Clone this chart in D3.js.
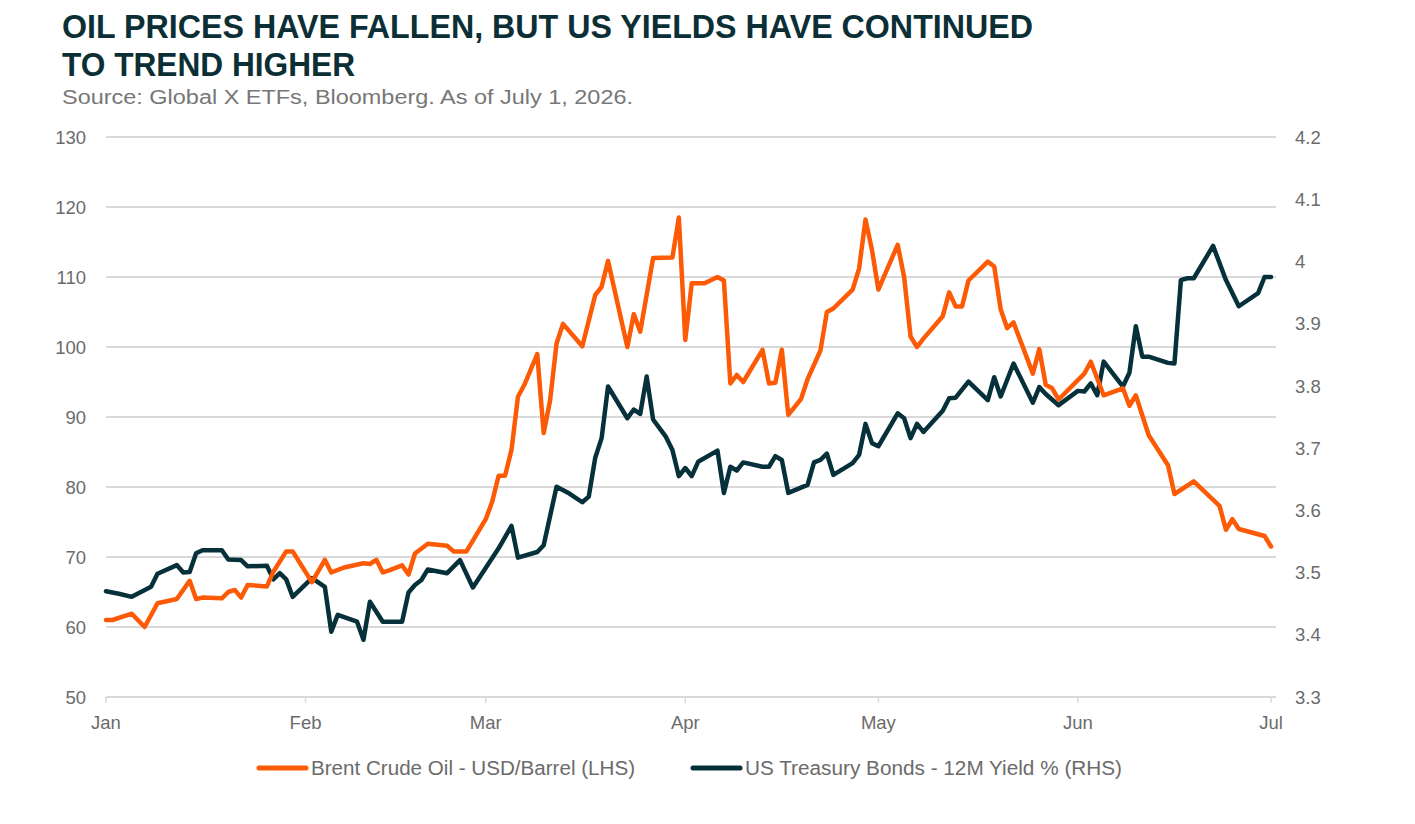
<!DOCTYPE html>
<html>
<head>
<meta charset="utf-8">
<script src="https://cdn.jsdelivr.net/npm/d3@7"></script>
<style>
  html, body { margin: 0; padding: 0; background: #fff; }
  svg { display: block; font-family: "Liberation Sans", Arial, sans-serif; }
</style>
</head>
<body>
<svg id="chart" width="1415" height="824"></svg>
<script>
// Brent crude, USD/barrel (left axis)
var oilDates = [
  "2026-01-01","2026-01-02","2026-01-05","2026-01-07","2026-01-09","2026-01-12","2026-01-14","2026-01-15",
  "2026-01-16","2026-01-19","2026-01-20","2026-01-21","2026-01-22","2026-01-23","2026-01-26","2026-01-27",
  "2026-01-29","2026-01-30","2026-02-02","2026-02-04","2026-02-05","2026-02-07","2026-02-10","2026-02-11",
  "2026-02-12","2026-02-13","2026-02-14","2026-02-16","2026-02-17","2026-02-18","2026-02-20","2026-02-23",
  "2026-02-24","2026-02-26","2026-03-01","2026-03-02","2026-03-03","2026-03-04","2026-03-05","2026-03-06",
  "2026-03-07","2026-03-09","2026-03-10","2026-03-11","2026-03-12","2026-03-13","2026-03-16","2026-03-18",
  "2026-03-19","2026-03-20","2026-03-23","2026-03-24","2026-03-25","2026-03-27","2026-03-30","2026-03-31",
  "2026-04-01","2026-04-02","2026-04-04","2026-04-06","2026-04-07","2026-04-08","2026-04-09","2026-04-10",
  "2026-04-13","2026-04-14","2026-04-15","2026-04-16","2026-04-17","2026-04-19","2026-04-20","2026-04-22",
  "2026-04-23","2026-04-24","2026-04-27","2026-04-28","2026-04-29","2026-04-30","2026-05-01","2026-05-04",
  "2026-05-05","2026-05-06","2026-05-07","2026-05-08","2026-05-11","2026-05-12","2026-05-13","2026-05-14",
  "2026-05-15","2026-05-18","2026-05-19","2026-05-20","2026-05-21","2026-05-22","2026-05-25","2026-05-26",
  "2026-05-27","2026-05-28","2026-05-29","2026-06-02","2026-06-03","2026-06-05","2026-06-08","2026-06-09",
  "2026-06-10","2026-06-12","2026-06-15","2026-06-16","2026-06-19","2026-06-23","2026-06-24","2026-06-25",
  "2026-06-26","2026-06-30","2026-07-01"
];
var oilValues = [
  61.0, 61.0, 61.9, 60.0, 63.4, 64.0, 66.6, 64.0,
  64.2, 64.1, 65.0, 65.3, 64.2, 66.0, 65.8, 67.9,
  70.8, 70.8, 66.4, 69.6, 67.8, 68.5, 69.1, 69.0,
  69.6, 67.8, 68.1, 68.8, 67.5, 70.5, 71.9, 71.6,
  70.8, 70.8, 75.4, 77.9, 81.6, 81.6, 85.3, 92.9,
  94.6, 99.0, 87.7, 92.4, 100.5, 103.3, 100.1, 107.4,
  108.6, 112.3, 100.0, 104.7, 102.2, 112.7, 112.8, 118.5,
  101.0, 109.1, 109.1, 110.0, 109.5, 94.8, 96.0, 95.0,
  99.6, 94.8, 94.9, 99.6, 90.3, 92.6, 95.4, 99.5,
  105.0, 105.5, 108.2, 111.2, 118.2, 113.9, 108.2, 114.6,
  110.0, 101.5, 100.0, 101.2, 104.4, 107.8, 105.8, 105.8,
  109.5, 112.2, 111.5, 105.4, 102.7, 103.5, 96.2, 99.7,
  94.6, 94.1, 92.5, 96.2, 97.9, 93.1, 94.1, 91.6,
  93.1, 87.4, 83.1, 79.0, 80.8, 77.3, 73.9, 75.4,
  74.0, 73.0, 71.5
];

// US Treasury 12M yield, % (right axis)
var yieldDates = [
  "2026-01-01","2026-01-03","2026-01-05","2026-01-08","2026-01-09","2026-01-12","2026-01-13","2026-01-14",
  "2026-01-15","2026-01-16","2026-01-19","2026-01-20","2026-01-22","2026-01-23","2026-01-26","2026-01-27",
  "2026-01-28","2026-01-29","2026-01-30","2026-02-02","2026-02-04","2026-02-05","2026-02-06","2026-02-09",
  "2026-02-10","2026-02-11","2026-02-13","2026-02-16","2026-02-17","2026-02-18","2026-02-19","2026-02-20",
  "2026-02-23","2026-02-25","2026-02-27","2026-03-03","2026-03-05","2026-03-06","2026-03-09","2026-03-10",
  "2026-03-12","2026-03-14","2026-03-16","2026-03-17","2026-03-18","2026-03-19","2026-03-20","2026-03-23",
  "2026-03-24","2026-03-25","2026-03-26","2026-03-27","2026-03-29","2026-03-30","2026-03-31","2026-04-01",
  "2026-04-02","2026-04-03","2026-04-06","2026-04-07","2026-04-08","2026-04-09","2026-04-10","2026-04-13",
  "2026-04-14","2026-04-15","2026-04-16","2026-04-17","2026-04-20","2026-04-21","2026-04-22","2026-04-23",
  "2026-04-24","2026-04-27","2026-04-28","2026-04-29","2026-04-30","2026-05-01","2026-05-04","2026-05-05",
  "2026-05-06","2026-05-07","2026-05-08","2026-05-11","2026-05-12","2026-05-13","2026-05-15","2026-05-18",
  "2026-05-19","2026-05-20","2026-05-22","2026-05-25","2026-05-26","2026-05-27","2026-05-29","2026-06-01",
  "2026-06-02","2026-06-03","2026-06-04","2026-06-05","2026-06-08","2026-06-09","2026-06-10","2026-06-11",
  "2026-06-12","2026-06-15","2026-06-16","2026-06-17","2026-06-18","2026-06-19","2026-06-22","2026-06-24",
  "2026-06-26","2026-06-29","2026-06-30","2026-07-01"
];
var yieldValues = [
  3.470, 3.466, 3.461, 3.477, 3.498, 3.512, 3.500, 3.501,
  3.531, 3.536, 3.536, 3.521, 3.520, 3.510, 3.511, 3.489,
  3.499, 3.489, 3.461, 3.491, 3.477, 3.405, 3.432, 3.421,
  3.392, 3.453, 3.421, 3.421, 3.468, 3.480, 3.488, 3.505,
  3.499, 3.520, 3.476, 3.539, 3.575, 3.524, 3.533, 3.544,
  3.638, 3.627, 3.613, 3.622, 3.684, 3.716, 3.799, 3.748,
  3.762, 3.755, 3.815, 3.746, 3.718, 3.697, 3.655, 3.668,
  3.655, 3.678, 3.696, 3.628, 3.670, 3.664, 3.677, 3.670,
  3.670, 3.687, 3.681, 3.628, 3.641, 3.677, 3.681, 3.691,
  3.657, 3.676, 3.689, 3.739, 3.708, 3.703, 3.756, 3.748,
  3.716, 3.739, 3.726, 3.760, 3.780, 3.781, 3.807, 3.777,
  3.814, 3.783, 3.836, 3.773, 3.798, 3.787, 3.769, 3.792,
  3.791, 3.804, 3.785, 3.839, 3.799, 3.821, 3.896, 3.847,
  3.847, 3.837, 3.836, 3.970, 3.973, 3.973, 4.025, 3.970,
  3.928, 3.949, 3.975, 3.975
];

var leftTicks = [50, 60, 70, 80, 90, 100, 110, 120, 130];
var rightTicks = [3.3, 3.4, 3.5, 3.6, 3.7, 3.8, 3.9, 4.0, 4.1, 4.2];
var monthTicks = ["2026-01-01","2026-02-01","2026-03-01","2026-04-01","2026-05-01","2026-06-01","2026-07-01"];
var monthLabels = ["Jan", "Feb", "Mar", "Apr", "May", "Jun", "Jul"];

var seriesNames = ["Brent Crude Oil - USD/Barrel (LHS)", "US Treasury Bonds - 12M Yield % (RHS)"];

var ORANGE = "#fc5a05", TEAL = "#06313a", GRID = "#d9d9d9", LABEL = "#6b6b6b";

var parse = d3.timeParse("%Y-%m-%d");
var svg = d3.select("#chart");

var x = d3.scaleTime()
    .domain([parse("2026-01-01"), parse("2026-07-01")])
    .range([106, 1271]);
var yL = d3.scaleLinear().domain([50, 130]).range([697, 137]);
var yR = d3.scaleLinear().domain([3.3, 4.2]).range([697, 137]);

// titles
var title = svg.append("g")
    .attr("font-family", "'Liberation Sans Narrow', 'Liberation Sans', Arial, sans-serif")
    .attr("font-weight", "bold")
    .attr("font-size", 33)
    .attr("fill", "#0c2f36");
title.append("text").attr("x", 62).attr("y", 38)
    .attr("textLength", 971).attr("lengthAdjust", "spacingAndGlyphs")
    .text("OIL PRICES HAVE FALLEN, BUT US YIELDS HAVE CONTINUED");
title.append("text").attr("x", 62).attr("y", 76)
    .attr("textLength", 293).attr("lengthAdjust", "spacingAndGlyphs")
    .text("TO TREND HIGHER");

svg.append("text")
    .attr("x", 62).attr("y", 104)
    .attr("font-size", 20)
    .attr("fill", "#777")
    .attr("textLength", 571).attr("lengthAdjust", "spacingAndGlyphs")
    .text("Source: Global X ETFs, Bloomberg. As of July 1, 2026.");

// gridlines (left axis steps)
svg.append("g").selectAll("line")
    .data(leftTicks)
    .enter().append("line")
    .attr("x1", 106).attr("x2", 1276)
    .attr("y1", function(d) { return yL(d); })
    .attr("y2", function(d) { return yL(d); })
    .attr("stroke", GRID).attr("stroke-width", 1.8);

// month tick marks + labels
var xt = svg.append("g");
xt.selectAll("line")
    .data(monthTicks)
    .enter().append("line")
    .attr("x1", function(d) { return x(parse(d)); })
    .attr("x2", function(d) { return x(parse(d)); })
    .attr("y1", 697).attr("y2", 703)
    .attr("stroke", GRID).attr("stroke-width", 1.5);
xt.selectAll("text")
    .data(monthTicks)
    .enter().append("text")
    .attr("x", function(d) { return x(parse(d)); })
    .attr("y", 729)
    .attr("text-anchor", "middle")
    .attr("font-size", 18.5)
    .attr("fill", LABEL)
    .text(function(d, i) { return monthLabels[i]; });

// left labels
svg.append("g").selectAll("text")
    .data(leftTicks)
    .enter().append("text")
    .attr("x", 86)
    .attr("y", function(d) { return yL(d); })
    .attr("dy", "0.36em")
    .attr("text-anchor", "end")
    .attr("font-size", 18.5)
    .attr("fill", LABEL)
    .text(function(d) { return d; });

// right labels
svg.append("g").selectAll("text")
    .data(rightTicks)
    .enter().append("text")
    .attr("x", 1295)
    .attr("y", function(d) { return yR(d); })
    .attr("dy", "0.36em")
    .attr("font-size", 18.5)
    .attr("fill", LABEL)
    .text(function(d) { return String(+d.toFixed(1)); });

// lines
var oil = oilDates.map(function(d, i) { return { date: parse(d), v: oilValues[i] }; });
var yld = yieldDates.map(function(d, i) { return { date: parse(d), v: yieldValues[i] }; });

var oilLine = d3.line().x(function(d) { return x(d.date); }).y(function(d) { return yL(d.v); });
var yldLine = d3.line().x(function(d) { return x(d.date); }).y(function(d) { return yR(d.v); });

svg.append("path")
    .datum(yld)
    .attr("d", yldLine)
    .attr("fill", "none").attr("stroke", TEAL)
    .attr("stroke-width", 4.5).attr("stroke-linejoin", "round").attr("stroke-linecap", "round");

svg.append("path")
    .datum(oil)
    .attr("d", oilLine)
    .attr("fill", "none").attr("stroke", ORANGE)
    .attr("stroke-width", 4.5).attr("stroke-linejoin", "round").attr("stroke-linecap", "round");

// legend
var legend = [
    { name: seriesNames[0], color: ORANGE, x: 259, w: 324 },
    { name: seriesNames[1], color: TEAL, x: 693, w: 377 }
];
var lg = svg.append("g").selectAll("g")
    .data(legend)
    .enter().append("g")
    .attr("transform", function(d) { return "translate(" + d.x + ",768)"; });
lg.append("line")
    .attr("x1", 0).attr("x2", 47)
    .attr("stroke", function(d) { return d.color; })
    .attr("stroke-width", 5).attr("stroke-linecap", "round");
lg.append("text")
    .attr("x", 52).attr("dy", "0.36em")
    .attr("font-size", 19.5)
    .attr("fill", LABEL)
    .attr("textLength", function(d) { return d.w; })
    .attr("lengthAdjust", "spacingAndGlyphs")
    .text(function(d) { return d.name; });
</script>
</body>
</html>
